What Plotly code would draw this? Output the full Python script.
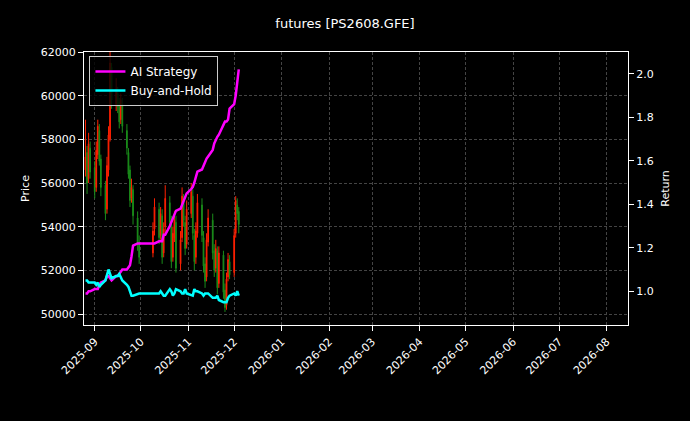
import pandas as pd
import plotly.graph_objects as go

dates = [d for d in pd.bdate_range("2025-08-26", "2025-12-04")
         if not (pd.Timestamp("2025-10-01") <= d <= pd.Timestamp("2025-10-08"))]

close = [57200, 56000, 57800, 56500,
         55600, 57500, 58600, 57000, 55800,
         54600, 56800, 58200, 61500, 59800,
         60300, 59500, 58800, 59800, 58600,
         57600, 56400, 55200, 55800, 54500,
         53200, 52600,
         53800, 54900,
         53500, 54600, 52600, 53900, 55300,
         54200, 52400, 53700, 54300, 52100,
         53400, 55400, 54300, 53000, 54800,
         55600, 53700, 52400, 53800, 55100,
         53600, 52200, 51500, 53400, 54400,
         52800, 52000, 53000, 51200, 52800,
         51000, 50300, 51600, 52500, 51800,
         53600, 55200, 54600, 54100]
open_ = [56600, 57400, 56200, 57600,
         56700, 55800, 57300, 58400, 57100,
         55900, 54800, 56600, 58000, 61300,
         59600, 60100, 59700, 58900, 59600,
         58400, 57400, 56600, 55300, 55700,
         54400, 53300,
         52800, 53900,
         54800, 53600, 54500, 52800, 54000,
         55100, 54100, 52600, 53500, 54200,
         52300, 53500, 55200, 54200, 53200,
         54600, 55400, 53600, 52600, 53700,
         55000, 53500, 52300, 51700, 53300,
         54300, 52900, 52100, 52900, 51400,
         52700, 51100, 50400, 51700, 52400,
         51900, 53700, 55000, 54700]
high = [58900, 57700, 58300, 57900,
        57000, 57900, 58900, 58700, 57300,
        56100, 57200, 58600, 62000, 61500,
        60800, 60400, 59900, 60100, 59900,
        58700, 57600, 56800, 56200, 55900,
        54700, 53600,
        54200, 55300,
        55100, 54900, 54800, 54200, 55900,
        55400, 54500, 54000, 54700, 54500,
        53800, 55800, 55500, 54500, 55200,
        56000, 55700, 53900, 54200, 55500,
        55300, 53800, 52600, 53700, 54800,
        54600, 53200, 53400, 53100, 53100,
        52900, 51400, 51900, 52800, 52700,
        53900, 55400, 55300, 54900]
low = [56300, 55500, 56000, 56200,
       55300, 55600, 57100, 56800, 55400,
       54300, 54600, 56300, 57900, 59400,
       59300, 59200, 58500, 58700, 58300,
       57300, 56200, 54900, 55100, 54100,
       52900, 52300,
       52600, 53600,
       53200, 53400, 52300, 52600, 53700,
       53900, 52100, 52400, 53300, 51900,
       52000, 53300, 54000, 52700, 53000,
       54400, 53400, 52000, 52300, 53500,
       53300, 51900, 51200, 51500, 53100,
       52500, 51700, 51900, 50900, 51200,
       50700, 50100, 50200, 51500, 51600,
       51700, 53500, 54300, 53700]

ai_ret = [0.99, 0.99, 1.00, 1.00,
          1.01, 1.01, 1.01, 1.03, 1.04,
          1.05, 1.07, 1.07, 1.06, 1.05,
          1.07, 1.07, 1.08, 1.09, 1.10,
          1.10, 1.11, 1.12, 1.16, 1.21,
          1.22, 1.22,
          1.22, 1.22,
          1.23, 1.23, 1.23, 1.26, 1.26,
          1.30, 1.32, 1.34, 1.35, 1.37,
          1.38, 1.40, 1.42, 1.43, 1.45,
          1.47, 1.48, 1.50, 1.53, 1.55,
          1.56, 1.58, 1.60, 1.61, 1.62,
          1.65, 1.68, 1.70, 1.71, 1.72,
          1.76, 1.78, 1.78, 1.79, 1.84,
          1.86, 1.90, 1.95, 2.02]
bh_ret = [1.05, 1.05, 1.04, 1.04,
          1.04, 1.03, 1.04, 1.02, 1.03,
          1.05, 1.07, 1.10, 1.08, 1.06,
          1.07, 1.07, 1.08, 1.06, 1.05,
          1.03, 1.02, 1.00, 0.98, 0.98,
          0.99, 0.99,
          0.99, 0.99,
          0.99, 1.00, 0.99, 0.98, 0.98,
          1.01, 1.00, 0.98, 0.99, 1.01,
          1.00, 0.99, 0.99, 1.01, 0.99,
          0.98, 0.98, 1.01, 1.00, 1.00,
          0.99, 0.98, 0.99, 0.99, 0.99,
          0.97, 0.97, 0.97, 0.98, 0.96,
          0.95, 0.95, 0.95, 0.97, 0.98,
          0.99, 0.98, 1.00, 0.98]

tick_labels = ["2025-09", "2025-10", "2025-11", "2025-12", "2026-01", "2026-02",
               "2026-03", "2026-04", "2026-05", "2026-06", "2026-07", "2026-08"]

fig = go.Figure()
fig.add_trace(go.Candlestick(
    x=dates, open=open_, high=high, low=low, close=close,
    increasing=dict(line=dict(color="#ff2000", width=1), fillcolor="#ff2000"),
    decreasing=dict(line=dict(color="#1a8c1a", width=1), fillcolor="#1a8c1a"),
    whiskerwidth=0, showlegend=False, yaxis="y"))
fig.add_trace(go.Scatter(x=dates, y=ai_ret, mode="lines", name="AI Strategy",
                         line=dict(color="#ff00ff", width=2.5), yaxis="y2"))
fig.add_trace(go.Scatter(x=dates, y=bh_ret, mode="lines", name="Buy-and-Hold",
                         line=dict(color="#00ffff", width=2.5), yaxis="y2"))

grid = dict(showgrid=True, gridcolor="#444444", griddash="3px,2px", gridwidth=0.6)
fig.update_layout(
    width=690, height=421,
    paper_bgcolor="black", plot_bgcolor="black",
    font=dict(family="DejaVu Sans", color="white", size=11),
    title=dict(text="futures [PS2608.GFE]", x=0.5, xanchor="center", y=0.955, font=dict(size=13)),
    margin=dict(l=84, r=62, t=52, b=96, autoexpand=False),
    xaxis=dict(type="date", range=["2025-08-25", "2026-08-15"],
               tickvals=[pd.Timestamp(t + "-01") for t in tick_labels], ticktext=tick_labels,
               tickangle=-45, rangeslider=dict(visible=False), automargin=False,
               showline=True, linecolor="white", mirror=True, ticks="outside", tickcolor="white",
               **grid),
    yaxis=dict(title=dict(text="Price", font=dict(size=11), standoff=8), range=[49500, 62000], dtick=2000,
               showline=True, linecolor="white", mirror=True, ticks="outside", tickcolor="white",
               tickformat="d", automargin=False, **grid),
    yaxis2=dict(title=dict(text="Return", font=dict(size=11), standoff=8), overlaying="y", side="right",
                range=[0.845, 2.1], dtick=0.2, tickformat=".1f", showgrid=False, automargin=False,
                ticks="outside", tickcolor="white", zeroline=False),
    legend=dict(x=0.01, y=0.985, xanchor="left", yanchor="top", bgcolor="rgba(0,0,0,0.8)",
                bordercolor="#cccccc", borderwidth=1, font=dict(size=12)),
)
fig.write_html("out.html", config={"displayModeBar": False},
               post_script="document.body.style.margin='0';document.body.style.background='black';")
